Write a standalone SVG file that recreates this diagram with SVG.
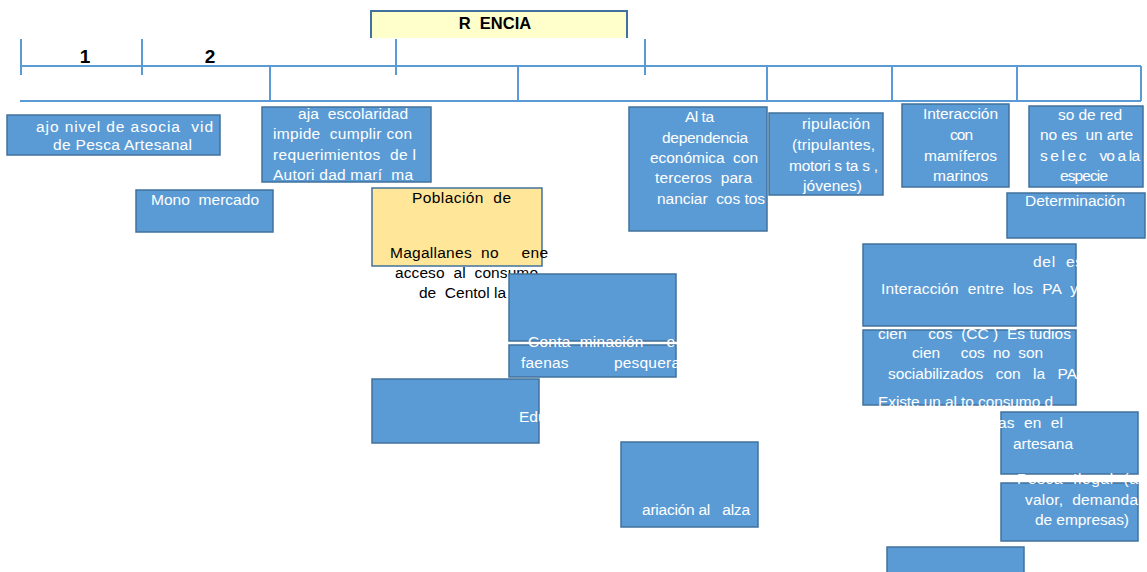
<svg xmlns="http://www.w3.org/2000/svg" width="1147" height="572" viewBox="0 0 1147 572">
<style>
text{font-family:"Liberation Sans",Arial,sans-serif;font-size:15.5px;white-space:pre;fill:#fff}
.dk{fill:#000}
.hd{font-weight:bold;fill:#000;font-size:16.5px}
.nd{fill:#5B9BD5;stroke:#41719C;stroke-width:1.5}
.ye{fill:#FFE699;stroke:#41719C;stroke-width:1.5}
.ln{stroke:#5B9BD5;stroke-width:2;fill:none}
</style>
<rect width="1147" height="572" fill="#fff"/>
<g id="header">
<path d="M371,38 V11 H627 V38" fill="#FFFFCC" stroke="#41719C" stroke-width="2"/>
<text class="hd" x="495" y="29" text-anchor="middle">R  ENCIA</text>
</g>
<g id="connectors" class="ln">
<line x1="20" y1="66" x2="1141" y2="66"/>
<line x1="20" y1="101" x2="1141" y2="101"/>
<line x1="1141" y1="66" x2="1141" y2="101"/>
<line x1="21" y1="39" x2="21" y2="75"/>
<line x1="142" y1="39" x2="142" y2="75"/>
<line x1="396" y1="39" x2="396" y2="75"/>
<line x1="645" y1="39" x2="645" y2="75"/>
<line x1="270" y1="66" x2="270" y2="101"/>
<line x1="518" y1="66" x2="518" y2="101"/>
<line x1="767" y1="66" x2="767" y2="101"/>
<line x1="892" y1="66" x2="892" y2="101"/>
<line x1="1017" y1="66" x2="1017" y2="101"/>
</g>
<g id="labels">
<text class="hd" x="85" y="63" text-anchor="middle" style="font-size:19px">1</text>
<text class="hd" x="210" y="63" text-anchor="middle" style="font-size:19px">2</text>
</g>
<g id="n1">
<rect class="nd" x="7" y="115" width="213" height="40"/>
<text x="36" y="132" textLength="177" lengthAdjust="spacing">ajo nivel de asocia  vid</text>
<text x="53" y="150" textLength="139" lengthAdjust="spacing">de Pesca Artesanal</text>
</g>
<g id="n2">
<rect class="nd" x="136" y="190" width="137" height="42"/>
<text x="151" y="205" textLength="108" lengthAdjust="spacing">Mono  mercado</text>
</g>
<g id="n3">
<rect class="nd" x="262" y="107" width="169" height="75"/>
<text x="298" y="119" textLength="110" lengthAdjust="spacing">aja  escolaridad</text>
<text x="273" y="139" textLength="139" lengthAdjust="spacing">impide  cumplir con</text>
<text x="273" y="160" textLength="143" lengthAdjust="spacing">requerimientos  de l</text>
<text x="273" y="180" textLength="140" lengthAdjust="spacing">Autori dad marí  ma</text>
</g>
<g id="n4">
<rect class="ye" x="372" y="188" width="170" height="78"/>
<text class="dk" x="412" y="203" textLength="99" lengthAdjust="spacing">Población  de</text>
<text class="dk" x="390" y="258" textLength="158" lengthAdjust="spacing">Magallanes  no     ene</text>
<text class="dk" x="395" y="278" textLength="143" lengthAdjust="spacing">acceso  al  consumo</text>
<text class="dk" x="419" y="298" textLength="87" lengthAdjust="spacing">de  Centol la</text>
</g>
<g id="n5">
<rect class="nd" x="509" y="274" width="167" height="67"/>
</g>
<g id="n6">
<rect class="nd" x="509" y="345" width="167" height="32"/>
<text x="528" y="347" textLength="147" lengthAdjust="spacing">Conta  minación     e</text>
<text x="521" y="368" textLength="159" lengthAdjust="spacing">faenas          pesquera</text>
<text x="521" y="390">(ba</text>
</g>
<g id="n7">
<rect class="nd" x="372" y="379" width="167" height="64"/>
<text x="519" y="422">Edu</text>
</g>
<g id="n8">
<rect class="nd" x="629" y="107" width="138" height="124"/>
<text x="685" y="122" textLength="29" lengthAdjust="spacing">Al ta</text>
<text x="662" y="143" textLength="86" lengthAdjust="spacing">dependencia</text>
<text x="650" y="163" textLength="108" lengthAdjust="spacing">económica  con</text>
<text x="655" y="183" textLength="97" lengthAdjust="spacing">terceros  para</text>
<text x="657" y="204" textLength="108" lengthAdjust="spacing">nanciar  cos tos</text>
</g>
<g id="n9">
<rect class="nd" x="769" y="113" width="114" height="82"/>
<text x="802" y="129" textLength="68" lengthAdjust="spacing">ripulación</text>
<text x="792" y="150" textLength="83" lengthAdjust="spacing">(tripulantes,</text>
<text x="789" y="171" textLength="89" lengthAdjust="spacing">motori s ta s ,</text>
<text x="803" y="191" textLength="59" lengthAdjust="spacing">jóvenes)</text>
</g>
<g id="n10">
<rect class="nd" x="902" y="104" width="107" height="83"/>
<text x="923" y="119" textLength="75" lengthAdjust="spacing">Interacción</text>
<text x="950" y="140" textLength="23" lengthAdjust="spacing">con</text>
<text x="924" y="161" textLength="73" lengthAdjust="spacing">mamíferos</text>
<text x="933" y="181" textLength="55" lengthAdjust="spacing">marinos</text>
</g>
<g id="n11">
<rect class="nd" x="1029" y="106" width="114" height="81"/>
<text x="1058" y="120" textLength="64" lengthAdjust="spacing">so de red</text>
<text x="1040" y="140" textLength="93" lengthAdjust="spacing">no es  un arte</text>
<text x="1040" y="161" textLength="100" lengthAdjust="spacing">s e l e c    vo a la</text>
<text x="1060" y="181" textLength="48" lengthAdjust="spacing">especie</text>
</g>
<g id="n12">
<rect class="nd" x="1007" y="193" width="138" height="45"/>
<text x="1025" y="206" textLength="100" lengthAdjust="spacing">Determinación</text>
</g>
<g id="n13">
<rect class="nd" x="863" y="244" width="213" height="82"/>
<text x="1033" y="267" textLength="50" lengthAdjust="spacing">del  es</text>
<text x="881" y="294" textLength="197" lengthAdjust="spacing">Interacción  entre  los  PA  y</text>
</g>
<g id="n14">
<rect class="nd" x="863" y="330" width="213" height="75"/>
<text x="878" y="339" textLength="193" lengthAdjust="spacing">cien     cos  (CC )  Es tudios</text>
<text x="912" y="358" textLength="131" lengthAdjust="spacing">cien     cos  no  son</text>
<text x="888" y="379" textLength="189" lengthAdjust="spacing">sociabilizados   con   la   PA</text>
<text x="878" y="407" textLength="175" lengthAdjust="spacing">Existe un al to consumo d</text>
</g>
<g id="n15">
<rect class="nd" x="1001" y="412" width="137" height="62"/>
<text x="998" y="428" textLength="65" lengthAdjust="spacing">as  en  el</text>
<text x="1013" y="449" textLength="60" lengthAdjust="spacing">artesana</text>
</g>
<g id="n16">
<rect class="nd" x="1001" y="483" width="137" height="58"/>
<text x="1017" y="484" textLength="130" lengthAdjust="spacing">Pesca  Ilegal  (alt</text>
<text x="1025" y="505" textLength="113" lengthAdjust="spacing">valor,  demanda</text>
<text x="1035" y="525" textLength="94" lengthAdjust="spacing">de empresas)</text>
</g>
<g id="n17">
<rect class="nd" x="887" y="547" width="137" height="30"/>
</g>
<g id="n18">
<rect class="nd" x="621" y="442" width="137" height="85"/>
<text x="642" y="515" textLength="108" lengthAdjust="spacing">ariación al   alza</text>
</g>
</svg>
